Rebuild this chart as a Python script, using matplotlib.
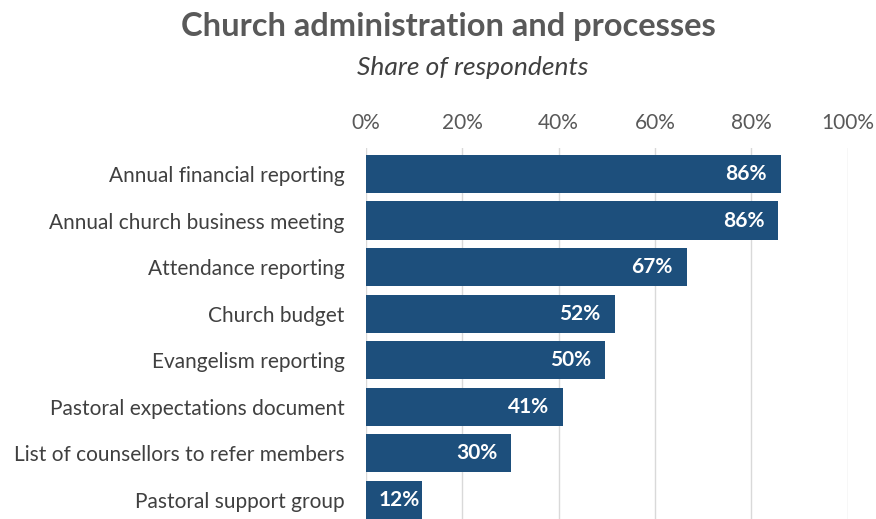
import matplotlib.pyplot as plt
from matplotlib.ticker import FuncFormatter

# donnees
categories = ["Annual financial reporting", "Annual church business meeting",
              "Attendance reporting", "Church budget", "Evangelism reporting",
              "Pastoral expectations document", "List of counsellors to refer members",
              "Pastoral support group"]
shares = [86.1, 85.6, 66.6, 51.6, 49.6, 40.9, 30.1, 11.7]
ticks = [0, 20, 40, 60, 80, 100]

plt.rcParams['font.family'] = ['Lato', 'DejaVu Sans']

fig = plt.figure(figsize=(8.76, 5.19), dpi=100)
ax = fig.add_axes([0.4178, 0.0, 0.550, 0.715])

pos = list(range(len(categories)))
ax.barh(pos, shares, height=0.82, color='#1d4f7c', zorder=2)

# etiquettes de valeur dans les barres (a gauche si la barre est trop courte)
for y, v in zip(pos, shares):
    if v < 15:
        ax.text(2.6, y, f"{round(v)}%", ha='left', va='center',
                color='white', fontsize=15, fontweight='bold', zorder=3)
    else:
        ax.text(v - 2.9, y, f"{round(v)}%", ha='right', va='center',
                color='white', fontsize=15, fontweight='bold', zorder=3)

ax.set_xlim(0, 100)
ax.set_ylim(7.41, -0.56)
ax.set_xticks(ticks)
ax.xaxis.set_major_formatter(FuncFormatter(lambda x, p: f"{x:.0f}%"))
ax.xaxis.tick_top()
ax.tick_params(axis='x', length=0, pad=10.5, labelsize=15, labelcolor='#595959')
ax.set_yticks(pos)
ax.set_yticklabels(categories)
ax.tick_params(axis='y', length=0, pad=15.5, labelsize=15, labelcolor='#404040')
ax.grid(axis='x', color='#d9d9d9', linewidth=1, zorder=0)
for s in ax.spines.values():
    s.set_visible(False)

fig.text(0.512, 0.948, "Church administration and processes", ha='center', va='center',
         fontsize=23.5, fontweight='bold', color='#595959')
fig.text(0.54, 0.870, "Share of respondents", ha='center', va='center',
         fontsize=19, style='italic', color='#404040')

fig.savefig("out.png", dpi=100)
